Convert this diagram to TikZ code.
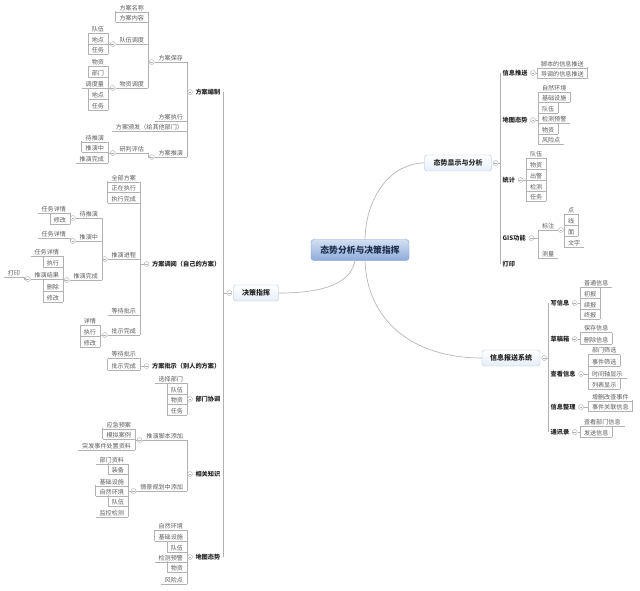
\documentclass[tikz,border=0pt]{standalone}
\usepackage{fontspec}
\setmainfont{Noto Sans CJK SC}
\usepackage{tikz}

\definecolor{linegray}{HTML}{B2B2B2}
\definecolor{curvegray}{HTML}{B8B8B8}
\definecolor{leaftext}{HTML}{5C5C5C}
\definecolor{boldtext}{HTML}{262626}
\definecolor{roottext}{HTML}{1F2E4C}
\definecolor{rootTop}{HTML}{D3E0F4}
\definecolor{rootBot}{HTML}{8EABDA}
\definecolor{rootLine}{HTML}{7D99C8}
\definecolor{boxFill}{HTML}{E6EEF9}
\definecolor{boxLine}{HTML}{B3C3DD}

\newcommand\leaffont{\fontsize{6.1}{6.8}\selectfont}
\newcommand\branchfont{\fontsize{6.2}{7}\selectfont\bfseries}
\newcommand\boxfont{\fontsize{7}{8}\selectfont\bfseries}
\newcommand\rootfont{\fontsize{8.8}{10}\selectfont\bfseries}

\tikzset{
  link/.style={draw=linegray, line width=0.45pt},
  trunk/.style={draw=curvegray, line width=0.7pt},
  topic/.style={font=\leaffont, text=leaftext, inner xsep=4pt, inner ysep=1.3pt, outer sep=0pt,
    append after command={(\tikzlastnode.south west) edge[link] (\tikzlastnode.south east)}},
  topicL/.style={topic,
    append after command={(\tikzlastnode.south west) edge[link] ([yshift=10.8pt]\tikzlastnode.south west)}},
  topicR/.style={topic,
    append after command={(\tikzlastnode.south east) edge[link] ([yshift=10.8pt]\tikzlastnode.south east)}},
  branch/.style={font=\branchfont, text=boldtext, inner xsep=2.5pt, inner ysep=1pt},
  fold/.style={circle, draw=linegray, line width=0.45pt, fill=white, inner sep=0pt, minimum size=5pt,
    path picture={\draw[linegray, line width=0.45pt] ([xshift=-1.4pt]path picture bounding box.center) -- ([xshift=1.4pt]path picture bounding box.center);}},
  mainbox/.style={font=\boxfont, text=boldtext, draw=boxLine, top color=white, bottom color=boxFill,
    rounded corners=2.5pt, minimum height=16pt, inner xsep=3pt},
  rootbox/.style={font=\rootfont, text=roottext, draw=rootLine, top color=rootTop, bottom color=rootBot,
    rounded corners=3pt, minimum width=98pt, minimum height=21pt}
}

\begin{document}
\begin{tikzpicture}[x=1pt,y=-1pt]
\path[use as bounding box, fill=white] (0,0) rectangle (640,591);

\node[rootbox] (root) at (360,250) {态势分析与决策指挥};
\node[mainbox, minimum width=67pt] (ts) at (458,163) {态势显示与分析};
\node[mainbox, minimum width=58pt] (xx) at (511,358) {信息报送系统};
\node[mainbox, minimum width=45pt] (jc) at (256,293) {决策指挥};
\draw[trunk] ([xshift=5pt]root.north) .. controls (366,195) and (392,163) .. (ts.west);
\draw[trunk] ([xshift=5pt]root.south) .. controls (367,320) and (412,358) .. (xx.west);
\draw[trunk] ([xshift=-5pt]root.south) .. controls (350,288) and (312,293) .. (jc.east);
\node[fold] (cts) at ([xshift=4pt]ts.east) {};
\node[fold] (cxx) at ([xshift=4pt]xx.east) {};
\node[fold] (cjc) at ([xshift=-4pt]jc.west) {};

% left side
\foreach \n/\lab/\y in {bz/方案编制/92,dy/方案调阅（自己的方案）/264,ps/方案批示（别人的方案）/366,
    xt/部门协调/399,zs/相关知识/474,dt/地图态势/557}
  {\node[branch, anchor=east] (\n) at (223,\y) {\lab};
   \node[fold] (c\n) at ([xshift=-2.8pt]\n.west) {};
   \draw[link] (cjc.west) -| (\n.east);}

\foreach \p/\n/\lab/\px/\y/\st in {bz/bz1/方案保存/187/62/topic,bz/bz2/方案执行/187/121/topic,
    bz/bz3/方案颁发（给其他部门）/187/131/topic,bz/bz4/方案推演/187/157/topic,
    dy/dy1/全部方案/140/182/topic,dy/dy2/正在执行/140/192/topicL,dy/dy3/执行完成/140/203/topicL,
    dy/dy4/推演进程/140/259/topic,dy/dy5/等待批示/140/315/topic,dy/dy6/批示完成/140/335/topic,
    ps/ps1/等待批示/140/358/topic,ps/ps2/批示完成/140/370/topicL,
    xt/xt1/选择部门/187/383/topic,xt/xt2/队伍/187/394/topicL,xt/xt3/物资/187/404/topicL,xt/xt4/任务/187/415/topicL,
    zs/zs1/推演脚本添加/187/440/topic,zs/zs2/情景规划中添加/187/491/topic,
    dt/dt1/自然环境/187/530/topic,dt/dt2/基础设施/187/541/topicL,dt/dt3/队伍/187/552/topicL,
    dt/dt4/检测预警/187/562/topic,dt/dt5/物资/187/572/topicL,dt/dt6/风险点/187/584/topic}
  {\node[\st, anchor=south east] (\n) at (\px,\y) {\lab};
   \draw[link] (c\p.west) -| (\n.south east);}
\foreach \n in {bz1,bz4,dy4,dy6,zs1,zs2}
  \node[fold] (c\n) at ([xshift=-2.8pt]\n.south west) {};

\foreach \p/\n/\lab/\px/\y/\st in {bz1/bz11/方案名称/148/12/topic,bz1/bz12/方案内容/148/22/topicL,
    bz1/bz13/队伍调度/148/44/topic,bz1/bz14/物资调度/148/88/topic,bz4/bz41/研判评估/148/153/topic,
    dy4/dy41/待推演/102/218/topic,dy4/dy42/推演中/102/241/topic,dy4/dy43/推演完成/102/280/topic,
    dy6/dy61/详情/100/325/topic,dy6/dy62/执行/100/336/topicL,dy6/dy63/修改/100/347/topicL,
    zs1/zs11/应急预案/135/429/topic,zs1/zs12/模拟案例/135/439/topicL,zs1/zs13/突发事件处置资料/135/450/topic,
    zs2/zs21/部门资料/128/464/topic,zs2/zs22/装备/128/474/topicL,zs2/zs23/基础设施/128/486/topic,
    zs2/zs24/自然环境/128/496/topicL,zs2/zs25/队伍/128/506/topicL,zs2/zs26/监控检测/128/517/topic}
  {\node[\st, anchor=south east] (\n) at (\px,\y) {\lab};
   \draw[link] (c\p.west) -| (\n.south east);}
\foreach \n in {bz13,bz14,bz41,dy41,dy42,dy43}
  \node[fold] (c\n) at ([xshift=-2.8pt]\n.south west) {};

\foreach \p/\n/\lab/\px/\y/\st in {bz13/bz131/队伍/108/33/topic,bz13/bz132/地点/108/44/topicL,
    bz13/bz133/任务/108/54/topicL,bz14/bz141/物资/108/66/topic,bz14/bz142/部门/108/77/topicL,
    bz14/bz143/调度量/108/88/topic,bz14/bz144/地点/108/99/topicL,bz14/bz145/任务/108/110/topicL,
    bz41/bz411/待推演/108/142/topic,bz41/bz412/推演中/108/152/topicL,bz41/bz413/推演完成/108/163/topic,
    dy41/dy411/任务详情/70/213/topic,dy41/dy412/修改/70/224/topicL,dy42/dy421/任务详情/70/238/topic,
    dy43/dy431/任务详情/63/256/topic,dy43/dy432/执行/63/267/topicL,dy43/dy433/推演结果/63/279/topic,
    dy43/dy434/删除/63/291/topicL,dy43/dy435/修改/63/302/topicL}
  {\node[\st, anchor=south east] (\n) at (\px,\y) {\lab};
   \draw[link] (c\p.west) -| (\n.south east);}
\node[fold] (cdy433) at ([xshift=-2.8pt]dy433.south west) {};
\node[topic, anchor=south east] (dy4331) at (24,277) {打印};
\draw[link] (cdy433.west) -| (dy4331.south east);

% right side
\foreach \n/\lab/\y in {ts1/信息推送/73,ts2/地图态势/120,ts3/统计/180,ts4/GIS功能/238,ts5/打印/264}
  {\node[branch, anchor=west] (\n) at (500,\y) {\lab};
   \draw[link] (cts.east) -| (\n.west);}
\foreach \n/\lab/\y in {xx1/写信息/303,xx2/草稿箱/339,xx3/查看信息/374,xx4/信息整理/407,xx5/通讯录/432}
  {\node[branch, anchor=west] (\n) at (548,\y) {\lab};
   \draw[link] (cxx.east) -| (\n.west);}
\foreach \n in {ts1,ts2,ts3,ts4,xx1,xx2,xx3,xx4,xx5}
  \node[fold] (c\n) at ([xshift=2.8pt]\n.east) {};

\foreach \p/\n/\lab/\px/\y/\st in {ts1/ts11/脚本的信息推送/537/68/topic,ts1/ts12/导调的信息推送/537/78/topicR,
    ts2/ts21/自然环境/538/92/topic,ts2/ts22/基础设施/538/102.5/topicR,ts2/ts23/队伍/538/113/topicR,
    ts2/ts24/检测预警/538/123.5/topic,ts2/ts25/物资/538/134/topicR,ts2/ts26/风险点/538/144.5/topic,
    ts3/ts31/队伍/526/158/topic,ts3/ts32/物资/526/169/topicR,ts3/ts33/出警/526/180/topicR,
    ts3/ts34/检测/526/191/topicR,ts3/ts35/任务/526/201/topicR,
    ts4/ts41/标注/538/230/topic,ts4/ts42/测量/538/258/topic,
    xx1/xx11/普通信息/580/287/topic,xx1/xx12/初报/580/298/topicR,xx1/xx13/续报/580/309/topicR,
    xx1/xx14/终报/580/319/topicR,xx2/xx21/保存信息/580/332/topic,xx2/xx22/删除信息/580/344/topicR,
    xx3/xx31/部门筛选/588/354/topic,xx3/xx32/事件筛选/588/366/topicR,xx3/xx33/时间轴显示/588/378/topic,
    xx3/xx34/列表显示/588/389/topicR,xx4/xx41/增删改查事件/588/401/topic,xx4/xx42/事件关联信息/588/411/topicR,
    xx5/xx51/查看部门信息/580/426/topic,xx5/xx52/发送信息/580/437/topicR}
  {\node[\st, anchor=south west] (\n) at (\px,\y) {\lab};
   \draw[link] (c\p.east) -| (\n.south west);}
\node[fold] (cts41) at ([xshift=2.8pt]ts41.south east) {};
\foreach \n/\lab/\y/\st in {ts411/点/214/topic,ts412/线/225/topicR,ts413/面/236/topicR,ts414/文字/247/topic}
  {\node[\st, anchor=south west] (\n) at (564,\y) {\lab};
   \draw[link] (cts41.east) -| (\n.south west);}
\end{tikzpicture}
\end{document}
